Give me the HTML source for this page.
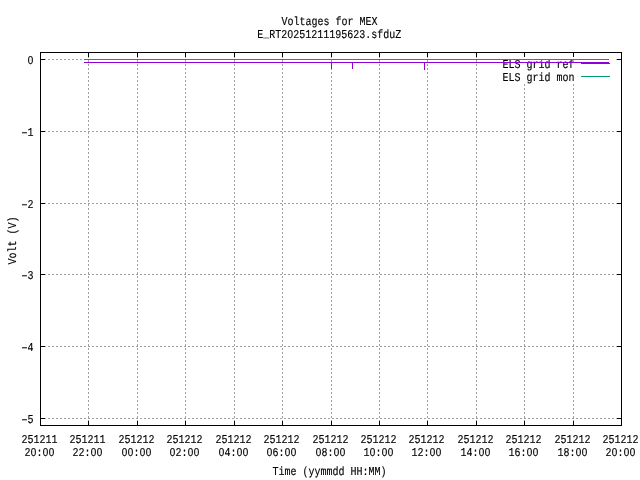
<!DOCTYPE html>
<html><head><meta charset="utf-8"><title>Voltages for MEX</title>
<style>
html,body{margin:0;padding:0;background:#fff;}
body{width:640px;height:480px;overflow:hidden;}
svg{display:block;will-change:transform;}
text{font-family:"Liberation Mono",monospace;font-size:12px;fill:#000;text-rendering:geometricPrecision;stroke:#000;stroke-width:0.15;}
</style></head><body>
<svg width="640" height="480" viewBox="0 0 640 480">
<rect width="640" height="480" fill="#fff"/>

<g stroke="#a0a0a0" stroke-width="1" stroke-dasharray="2,2" shape-rendering="crispEdges" fill="none">
<line x1="88.5" y1="52" x2="88.5" y2="426"/>
<line x1="137.5" y1="52" x2="137.5" y2="426"/>
<line x1="185.5" y1="52" x2="185.5" y2="426"/>
<line x1="234.5" y1="52" x2="234.5" y2="426"/>
<line x1="282.5" y1="52" x2="282.5" y2="426"/>
<line x1="331.5" y1="52" x2="331.5" y2="426"/>
<line x1="379.5" y1="52" x2="379.5" y2="426"/>
<line x1="427.5" y1="52" x2="427.5" y2="426"/>
<line x1="476.5" y1="52" x2="476.5" y2="426"/>
<line x1="524.5" y1="52" x2="524.5" y2="426"/>
<line x1="573.5" y1="52" x2="573.5" y2="426"/>
<line x1="40" y1="59.5" x2="622" y2="59.5"/>
<line x1="40" y1="131.5" x2="622" y2="131.5"/>
<line x1="40" y1="203.5" x2="622" y2="203.5"/>
<line x1="40" y1="274.5" x2="622" y2="274.5"/>
<line x1="40" y1="346.5" x2="622" y2="346.5"/>
<line x1="40" y1="418.5" x2="622" y2="418.5"/>
</g>
<rect x="497" y="53" width="118" height="31" fill="#fff" shape-rendering="crispEdges"/>
<g stroke="#000" stroke-width="1" shape-rendering="crispEdges" fill="none">
<line x1="88.5" y1="52" x2="88.5" y2="57"/>
<line x1="88.5" y1="426" x2="88.5" y2="421"/>
<line x1="137.5" y1="52" x2="137.5" y2="57"/>
<line x1="137.5" y1="426" x2="137.5" y2="421"/>
<line x1="185.5" y1="52" x2="185.5" y2="57"/>
<line x1="185.5" y1="426" x2="185.5" y2="421"/>
<line x1="234.5" y1="52" x2="234.5" y2="57"/>
<line x1="234.5" y1="426" x2="234.5" y2="421"/>
<line x1="282.5" y1="52" x2="282.5" y2="57"/>
<line x1="282.5" y1="426" x2="282.5" y2="421"/>
<line x1="331.5" y1="52" x2="331.5" y2="57"/>
<line x1="331.5" y1="426" x2="331.5" y2="421"/>
<line x1="379.5" y1="52" x2="379.5" y2="57"/>
<line x1="379.5" y1="426" x2="379.5" y2="421"/>
<line x1="427.5" y1="52" x2="427.5" y2="57"/>
<line x1="427.5" y1="426" x2="427.5" y2="421"/>
<line x1="476.5" y1="52" x2="476.5" y2="57"/>
<line x1="476.5" y1="426" x2="476.5" y2="421"/>
<line x1="524.5" y1="52" x2="524.5" y2="57"/>
<line x1="524.5" y1="426" x2="524.5" y2="421"/>
<line x1="573.5" y1="52" x2="573.5" y2="57"/>
<line x1="573.5" y1="426" x2="573.5" y2="421"/>
<line x1="40" y1="59.5" x2="45" y2="59.5"/>
<line x1="622" y1="59.5" x2="617" y2="59.5"/>
<line x1="40" y1="131.5" x2="45" y2="131.5"/>
<line x1="622" y1="131.5" x2="617" y2="131.5"/>
<line x1="40" y1="203.5" x2="45" y2="203.5"/>
<line x1="622" y1="203.5" x2="617" y2="203.5"/>
<line x1="40" y1="274.5" x2="45" y2="274.5"/>
<line x1="622" y1="274.5" x2="617" y2="274.5"/>
<line x1="40" y1="346.5" x2="45" y2="346.5"/>
<line x1="622" y1="346.5" x2="617" y2="346.5"/>
<line x1="40" y1="418.5" x2="45" y2="418.5"/>
<line x1="622" y1="418.5" x2="617" y2="418.5"/>
</g>
<text transform="translate(574.5,68) scale(0.83333,1)" text-anchor="end">ELS grid ref</text>
<text transform="translate(574.5,81) scale(0.83333,1)" text-anchor="end">ELS grid mon</text>
<g stroke-width="1" shape-rendering="crispEdges" fill="none">
<path stroke="#9400d3" d="M84,62.5 H609 M331.5,62 V69 M352.5,62 V69 M424.5,62 V70"/>
<path stroke="#9400d3" d="M581,63.5 H610"/>
<path stroke="#009e73" d="M84,59.5 H609"/>
<path stroke="#009e73" d="M581,76.5 H610"/>
</g>
<rect x="40.5" y="52.5" width="581" height="373" fill="none" stroke="#000" stroke-width="1" shape-rendering="crispEdges"/>
<text transform="translate(329.5,25) scale(0.83333,1)" text-anchor="middle">Voltages for MEX</text>
<text transform="translate(329.25,38) scale(0.83333,1)" text-anchor="middle">E<tspan dy="-0.55">_</tspan><tspan dy="0.55">RT20251211195623.sfduZ</tspan></text>
<text transform="translate(39.5,443) scale(0.83333,1)" text-anchor="middle">251211</text>
<text transform="translate(39.5,456) scale(0.83333,1)" text-anchor="middle">20:00</text>
<text transform="translate(87.5,443) scale(0.83333,1)" text-anchor="middle">251211</text>
<text transform="translate(87.5,456) scale(0.83333,1)" text-anchor="middle">22:00</text>
<text transform="translate(136.5,443) scale(0.83333,1)" text-anchor="middle">251212</text>
<text transform="translate(136.5,456) scale(0.83333,1)" text-anchor="middle">00:00</text>
<text transform="translate(184.5,443) scale(0.83333,1)" text-anchor="middle">251212</text>
<text transform="translate(184.5,456) scale(0.83333,1)" text-anchor="middle">02:00</text>
<text transform="translate(233.5,443) scale(0.83333,1)" text-anchor="middle">251212</text>
<text transform="translate(233.5,456) scale(0.83333,1)" text-anchor="middle">04:00</text>
<text transform="translate(281.5,443) scale(0.83333,1)" text-anchor="middle">251212</text>
<text transform="translate(281.5,456) scale(0.83333,1)" text-anchor="middle">06:00</text>
<text transform="translate(330.5,443) scale(0.83333,1)" text-anchor="middle">251212</text>
<text transform="translate(330.5,456) scale(0.83333,1)" text-anchor="middle">08:00</text>
<text transform="translate(378.5,443) scale(0.83333,1)" text-anchor="middle">251212</text>
<text transform="translate(378.5,456) scale(0.83333,1)" text-anchor="middle">10:00</text>
<text transform="translate(426.5,443) scale(0.83333,1)" text-anchor="middle">251212</text>
<text transform="translate(426.5,456) scale(0.83333,1)" text-anchor="middle">12:00</text>
<text transform="translate(475.5,443) scale(0.83333,1)" text-anchor="middle">251212</text>
<text transform="translate(475.5,456) scale(0.83333,1)" text-anchor="middle">14:00</text>
<text transform="translate(523.5,443) scale(0.83333,1)" text-anchor="middle">251212</text>
<text transform="translate(523.5,456) scale(0.83333,1)" text-anchor="middle">16:00</text>
<text transform="translate(572.5,443) scale(0.83333,1)" text-anchor="middle">251212</text>
<text transform="translate(572.5,456) scale(0.83333,1)" text-anchor="middle">18:00</text>
<text transform="translate(620.5,443) scale(0.83333,1)" text-anchor="middle">251212</text>
<text transform="translate(620.5,456) scale(0.83333,1)" text-anchor="middle">20:00</text>
<text transform="translate(329.5,475) scale(0.83333,1)" text-anchor="middle">Time (yymmdd HH:MM)</text>
<text transform="translate(16,240.5) rotate(-90) scale(0.83333,1)" text-anchor="middle">Volt (V)</text>
<text transform="translate(33.5,64) scale(0.83333,1)" text-anchor="end">0</text>
<text transform="translate(24.5,135.68) scale(1.45,1)" text-anchor="middle">-</text>
<text transform="translate(33.5,136) scale(0.83333,1)" text-anchor="end">1</text>
<text transform="translate(24.5,207.68) scale(1.45,1)" text-anchor="middle">-</text>
<text transform="translate(33.5,208) scale(0.83333,1)" text-anchor="end">2</text>
<text transform="translate(24.5,278.68) scale(1.45,1)" text-anchor="middle">-</text>
<text transform="translate(33.5,279) scale(0.83333,1)" text-anchor="end">3</text>
<text transform="translate(24.5,350.68) scale(1.45,1)" text-anchor="middle">-</text>
<text transform="translate(33.5,351) scale(0.83333,1)" text-anchor="end">4</text>
<text transform="translate(24.5,422.68) scale(1.45,1)" text-anchor="middle">-</text>
<text transform="translate(33.5,423) scale(0.83333,1)" text-anchor="end">5</text>
<g fill="#fff"><rect x="289.50" y="33.10" width="1.5" height="1.8"/><rect x="32.75" y="451.10" width="1.5" height="1.8"/><rect x="44.75" y="451.10" width="1.5" height="1.8"/><rect x="50.75" y="451.10" width="1.5" height="1.8"/><rect x="92.75" y="451.10" width="1.5" height="1.8"/><rect x="98.75" y="451.10" width="1.5" height="1.8"/><rect x="123.75" y="451.10" width="1.5" height="1.8"/><rect x="129.75" y="451.10" width="1.5" height="1.8"/><rect x="141.75" y="451.10" width="1.5" height="1.8"/><rect x="147.75" y="451.10" width="1.5" height="1.8"/><rect x="171.75" y="451.10" width="1.5" height="1.8"/><rect x="189.75" y="451.10" width="1.5" height="1.8"/><rect x="195.75" y="451.10" width="1.5" height="1.8"/><rect x="220.75" y="451.10" width="1.5" height="1.8"/><rect x="238.75" y="451.10" width="1.5" height="1.8"/><rect x="244.75" y="451.10" width="1.5" height="1.8"/><rect x="268.75" y="451.10" width="1.5" height="1.8"/><rect x="286.75" y="451.10" width="1.5" height="1.8"/><rect x="292.75" y="451.10" width="1.5" height="1.8"/><rect x="317.75" y="451.10" width="1.5" height="1.8"/><rect x="335.75" y="451.10" width="1.5" height="1.8"/><rect x="341.75" y="451.10" width="1.5" height="1.8"/><rect x="371.75" y="451.10" width="1.5" height="1.8"/><rect x="383.75" y="451.10" width="1.5" height="1.8"/><rect x="389.75" y="451.10" width="1.5" height="1.8"/><rect x="431.75" y="451.10" width="1.5" height="1.8"/><rect x="437.75" y="451.10" width="1.5" height="1.8"/><rect x="480.75" y="451.10" width="1.5" height="1.8"/><rect x="486.75" y="451.10" width="1.5" height="1.8"/><rect x="528.75" y="451.10" width="1.5" height="1.8"/><rect x="534.75" y="451.10" width="1.5" height="1.8"/><rect x="577.75" y="451.10" width="1.5" height="1.8"/><rect x="583.75" y="451.10" width="1.5" height="1.8"/><rect x="613.75" y="451.10" width="1.5" height="1.8"/><rect x="625.75" y="451.10" width="1.5" height="1.8"/><rect x="631.75" y="451.10" width="1.5" height="1.8"/><rect x="29.75" y="59.10" width="1.5" height="1.8"/></g>
</svg></body></html>
